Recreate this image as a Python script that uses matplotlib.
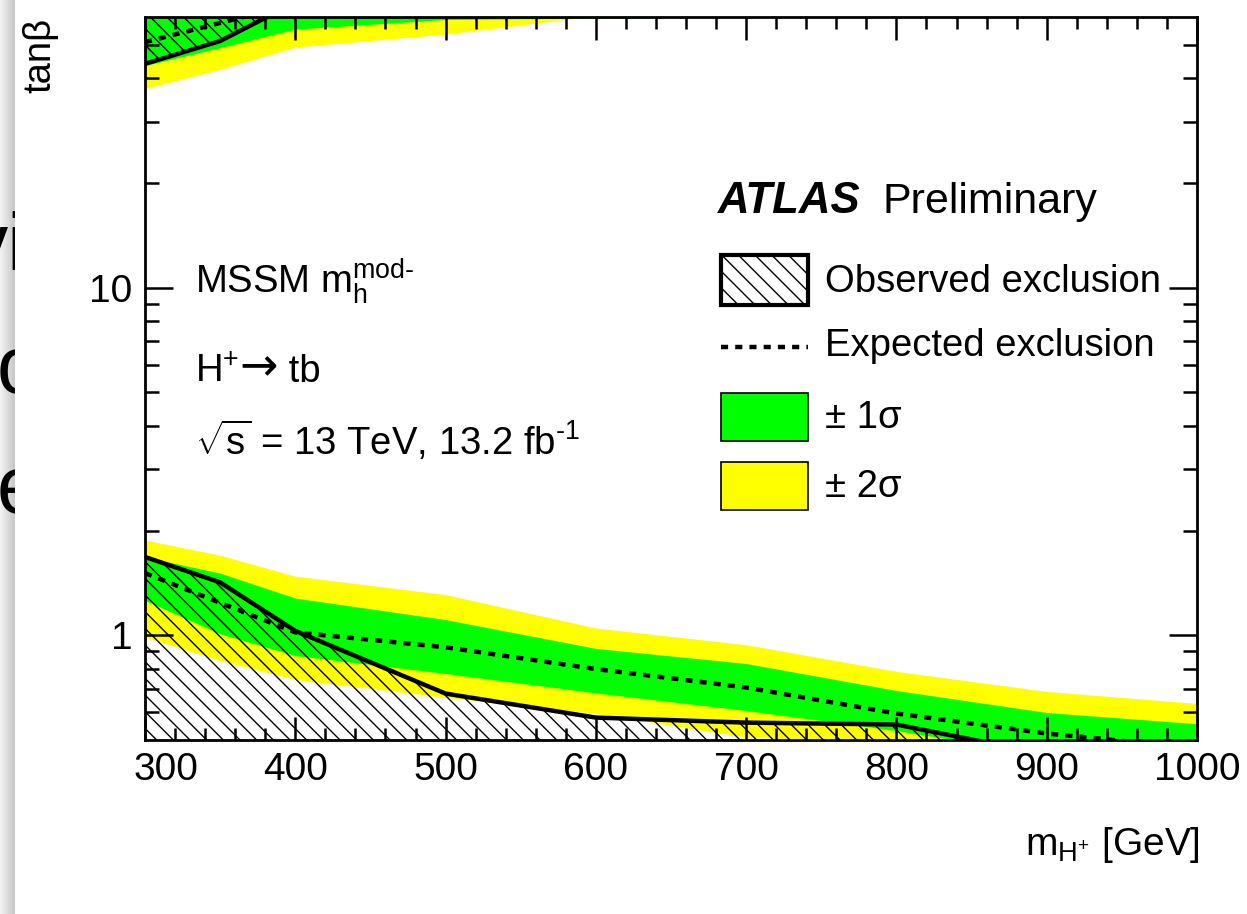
import numpy as np
import matplotlib
matplotlib.use("Agg")
from matplotlib import pyplot as plt
from matplotlib.patches import Rectangle
from matplotlib.lines import Line2D
from matplotlib.ticker import FixedLocator, MultipleLocator, NullFormatter, FixedFormatter

plt.rcParams['font.family'] = ['Liberation Sans', 'DejaVu Sans']
plt.rcParams['mathtext.fontset'] = 'custom'
plt.rcParams['mathtext.rm'] = 'Liberation Sans'
plt.rcParams['mathtext.it'] = 'Liberation Sans:italic'
plt.rcParams['mathtext.sf'] = 'Liberation Sans'
plt.rcParams['hatch.linewidth'] = 1.0

# charged Higgs mass points [GeV]
mass = [300, 350, 400, 500, 600, 700, 800, 900, 1000]
xtick_vals = [300, 400, 500, 600, 700, 800, 900, 1000]
xtick_text = ['', '400', '500', '600', '700', '800', '900', '1000']

# low tan(beta) exclusion
obs_low = [1.68, 1.42, 1.03, 0.68, 0.58, 0.561, 0.554, 0.455, 0.40]
exp_low = [1.51, 1.24, 1.02, 0.924, 0.80, 0.708, 0.596, 0.522, 0.474]
green_lo_low = [1.26, 1.01, 0.875, 0.777, 0.683, 0.608, 0.532, 0.454, 0.42]
green_hi_low = [1.68, 1.51, 1.28, 1.11, 0.917, 0.830, 0.694, 0.600, 0.557]
yellow_lo_low = [0.987, 0.847, 0.747, 0.663, 0.596, 0.51, 0.49, 0.45, 0.42]
yellow_hi_low = [1.88, 1.70, 1.48, 1.31, 1.05, 0.94, 0.788, 0.69, 0.637]

# high tan(beta) exclusion
obs_high = [44.0, 51.2, 66.0, 80.0, 90.0, 100.0, 110.0, 120.0, 130.0]
exp_high = [50.8, 57.7, 65.6, 80.0, 90.0, 100.0, 110.0, 120.0, 130.0]
green_lo_high = [43.5, 49.0, 55.4, 59.0, 59.6, 59.8, 59.9, 59.9, 59.9]
green_hi_high = [80.0, 90.0, 100.0, 110.0, 120.0, 130.0, 140.0, 150.0, 160.0]
yellow_lo_high = [37.4, 42.5, 49.2, 53.6, 60.5, 65.0, 70.0, 75.0, 80.0]
yellow_hi_high = [90.0, 100.0, 110.0, 120.0, 130.0, 140.0, 150.0, 160.0, 170.0]

ymin, ymax = 0.5, 60
W, H = 1247, 914

fig = plt.figure(figsize=(W / 100, H / 100), dpi=100)

# grey edge strip of the screenshot with clipped slide letters
strip = fig.add_axes([0, 0, 15 / W, 1])
grad = np.linspace(0.95, 0.78, 30).reshape(1, -1)
strip.imshow(grad, cmap='gray', vmin=0, vmax=1, aspect='auto', extent=[0, 15, H, 0])
strip.set_xlim(0, 15)
strip.set_ylim(H, 0)
strip.axis('off')
for txt, xx, yy in [('vi', -32, 270), ('o', -3, 393), ('e', -3, 513)]:
    t = strip.text(xx, yy, txt, fontsize=58, color='black', ha='left', va='baseline', clip_on=True)
    t.set_clip_path(strip.patch)

ax = fig.add_axes([145 / W, 1 - 740 / H, 1052 / W, 723 / H])
ax.set_yscale('log')

# bands
ax.fill_between(mass, yellow_lo_low, yellow_hi_low, color='#ffff00', lw=0)
ax.fill_between(mass, green_lo_low, green_hi_low, color='#00ff00', lw=0)
ax.fill_between(mass, yellow_lo_high, yellow_hi_high, color='#ffff00', lw=0)
ax.fill_between(mass, green_lo_high, green_hi_high, color='#00ff00', lw=0)

# observed exclusion hatch
hatch = '\\\\'
ax.fill_between(mass, 0.1, obs_low, facecolor='none', edgecolor='black', hatch=hatch, lw=0)
ax.fill_between(mass, obs_high, 1000, facecolor='none', edgecolor='black', hatch=hatch, lw=0)

dots = (0, (1.6, 1.6))
ax.plot(mass, exp_low, color='black', lw=3.2, ls=dots)
ax.plot(mass, exp_high, color='black', lw=3.2, ls=dots)
ax.plot(mass, obs_low, color='black', lw=3.2)
ax.plot(mass, obs_high, color='black', lw=3.2)

ax.set_xlim(300, 1000)
ax.set_ylim(ymin, ymax)
ax.xaxis.set_major_locator(FixedLocator(xtick_vals))
ax.xaxis.set_major_formatter(FixedFormatter(xtick_text))
ax.xaxis.set_minor_locator(MultipleLocator(20))
ax.yaxis.set_major_locator(FixedLocator([1, 10]))
ax.yaxis.set_major_formatter(FixedFormatter(['1', '10']))
ax.yaxis.set_minor_locator(FixedLocator([0.6, 0.7, 0.8, 0.9, 2, 3, 4, 5, 6, 7, 8, 9, 20, 30, 40, 50]))
ax.yaxis.set_minor_formatter(NullFormatter())

ax.tick_params(which='both', direction='in', top=True, right=True, width=1.8)
ax.tick_params(axis='x', which='major', length=16.5, labelsize=28, pad=9)
ax.tick_params(axis='x', which='minor', length=8.6)
ax.tick_params(axis='y', which='major', length=20, labelsize=28, pad=9)
ax.tick_params(axis='y', which='minor', length=10)
for sp in ax.spines.values():
    sp.set_linewidth(2)

# first x label sits shifted right, clear of the corner
ax.annotate(str(xtick_vals[0]), xy=(xtick_vals[0], 0), xycoords=('data', 'axes fraction'),
            xytext=(21, -12.5), textcoords='offset pixels', ha='center', va='top', fontsize=28)

# axis titles
fig.text(1200 / W, 1 - 855 / H, r'm$_{\mathregular{H^{+}}}$ [GeV]', fontsize=28,
         ha='right', va='baseline')
fig.text(40 / W, 1 - 18 / H, 'tanβ', fontsize=27.5, rotation=90, ha='center', va='top')

# left labels
fs = 27.5
ax.text(0.0475, 0.618, r'MSSM m$_{\mathregular{h}}^{\text{mod-}}$', fontsize=fs,
        transform=ax.transAxes, va='baseline')
t1 = ax.text(0.0475, 0.495, r'H$^{\mathregular{+}}$', fontsize=fs,
             transform=ax.transAxes, va='baseline')
ax.text(0.0475, 0.394, r'$\sqrt{\mathregular{s}}$ = 13 TeV, 13.2 fb$^{\text{-1}}$',
        fontsize=fs, transform=ax.transAxes, va='baseline')

# legend
ax.text(0.5447, 0.729, 'ATLAS', fontsize=31.5, fontweight='bold', fontstyle='italic',
        transform=ax.transAxes, va='baseline')
ax.text(0.7015, 0.729, 'Preliminary', fontsize=31, transform=ax.transAxes, va='baseline')

bx, bw = 0.5475, 0.0827
ax.add_patch(Rectangle((bx, 0.6017), bw, 0.069, transform=ax.transAxes,
                       facecolor='white', edgecolor='black', lw=3, hatch=hatch))
ax.add_line(Line2D([bx, bx + bw], [0.5436, 0.5436], transform=ax.transAxes,
                   color='black', lw=3.2, ls=dots))
ax.add_patch(Rectangle((bx, 0.4136), bw, 0.0663, transform=ax.transAxes,
                       facecolor='#00ff00', edgecolor='black', lw=1.2))
ax.add_patch(Rectangle((bx, 0.3181), bw, 0.0664, transform=ax.transAxes,
                       facecolor='#ffff00', edgecolor='black', lw=1.2))
tx = 0.6464
for label, yy in [('Observed exclusion', 0.6335), ('Expected exclusion', 0.545),
                  ('± 1σ', 0.4454), ('± 2σ', 0.3499)]:
    ax.text(tx, yy, label, fontsize=fs, transform=ax.transAxes, va='center')

# H+ -> tb: long arrow from DejaVu, placed after the measured H+
fig.canvas.draw()
r = fig.canvas.get_renderer()
bb = t1.get_window_extent(r)
inv = ax.transAxes.inverted()
x_end = inv.transform((bb.x1, 0))[0]
ta = ax.text(x_end, 0.497, '→', fontsize=33, family='DejaVu Sans',
             transform=ax.transAxes, va='baseline')
bb2 = ta.get_window_extent(r)
ax.text(inv.transform((bb2.x1, 0))[0], 0.495, ' tb', fontsize=fs,
        transform=ax.transAxes, va='baseline')

fig.savefig('out.png', dpi=100)
